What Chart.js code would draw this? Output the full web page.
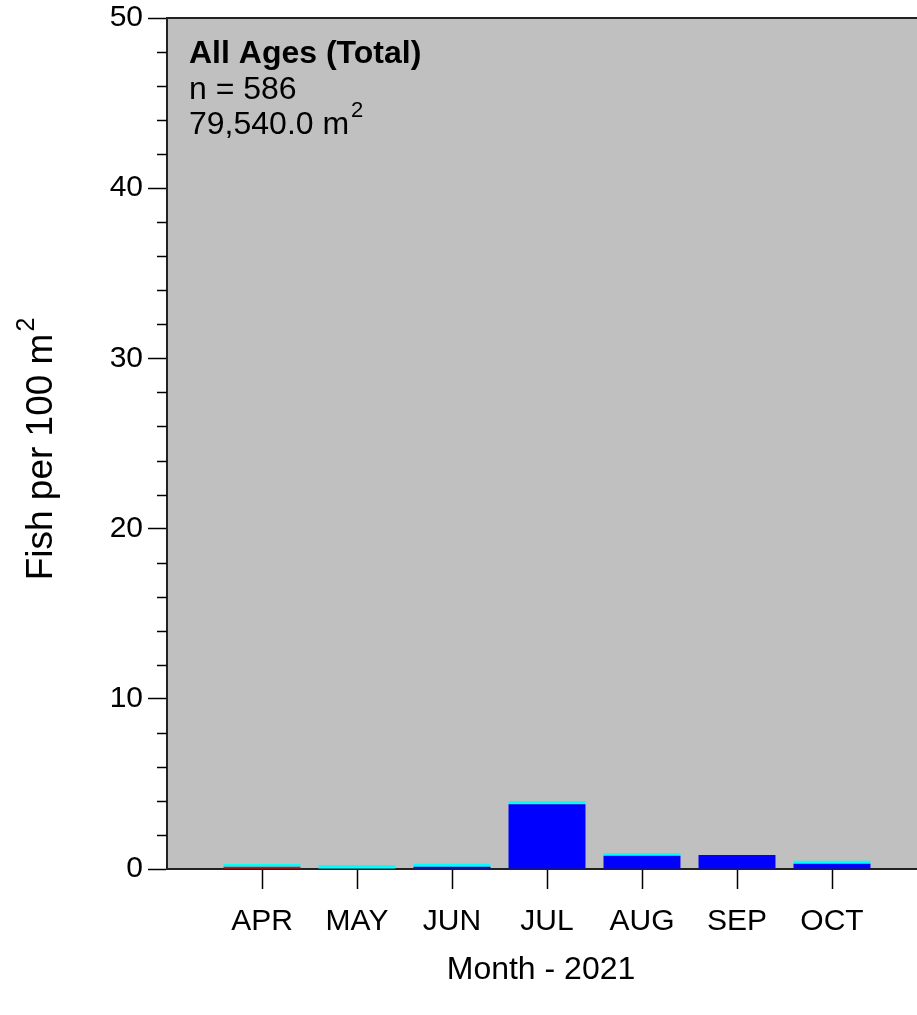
<!DOCTYPE html>
<html>
<head>
<meta charset="utf-8">
<script src="https://cdn.jsdelivr.net/npm/chart.js@4/dist/chart.umd.min.js"></script>
<style>
  html, body { margin: 0; padding: 0; background: #ffffff; overflow: hidden; }
  #wrap { width: 917px; height: 1015px; overflow: hidden; position: relative; }
  canvas { display: block; }
</style>
</head>
<body>
<div id="wrap"><canvas id="c" width="940" height="1015"></canvas></div>
<script>
// Monthly densities (fish per 100 m^2), stacked by age group
const months = ['APR', 'MAY', 'JUN', 'JUL', 'AUG', 'SEP', 'OCT'];
const age0 = [0.13, 0.00, 0.00, 0.00, 0.00, 0.00, 0.00];
const age1 = [0.00, 0.00, 0.13, 3.80, 0.78, 0.82, 0.31];
const age2 = [0.16, 0.23, 0.18, 0.19, 0.16, 0.00, 0.18];
const yTicks = [0, 10, 20, 30, 40, 50];
const yMinorTicks = [2, 4, 6, 8, 12, 14, 16, 18, 22, 24, 26, 28, 32, 34, 36, 38, 42, 44, 46, 48];

const panelTitle = 'All Ages (Total)';
const sampleText = 'n = 586';
const areaText = '79,540.0 m';
const yTitle = 'Fish per 100 m';
const xTitle = 'Month - 2021';

const FONT = '"Liberation Sans", Arial, Helvetica, sans-serif';

const toPoints = arr => arr.map((v, i) => ({ x: i + 1, y: v }));

const framePlugin = {
  id: 'frame',
  beforeDraw(chart) {
    const { ctx, chartArea: a } = chart;
    ctx.save();
    ctx.fillStyle = '#c0c0c0';
    ctx.fillRect(a.left, a.top, a.right - a.left, a.bottom - a.top);
    ctx.restore();
  },
  afterDraw(chart) {
    const { ctx, chartArea: a, scales } = chart;
    const y = scales.y;
    ctx.save();
    // top frame line
    ctx.strokeStyle = '#222';
    ctx.lineWidth = 2;
    ctx.beginPath();
    ctx.moveTo(a.left - 1, a.top);
    ctx.lineTo(a.right, a.top);
    ctx.stroke();
    // minor ticks on the value axis
    ctx.lineWidth = 1.5;
    ctx.strokeStyle = '#000';
    yMinorTicks.forEach(v => {
      const py = Math.round(y.getPixelForValue(v)) + 0.5;
      ctx.beginPath();
      ctx.moveTo(a.left - 10, py);
      ctx.lineTo(a.left, py);
      ctx.stroke();
    });
    // annotation block
    ctx.fillStyle = '#000';
    ctx.textBaseline = 'alphabetic';
    ctx.textAlign = 'left';
    const tx = a.left + 22;
    ctx.font = 'bold 32px ' + FONT;
    ctx.fillText(panelTitle, tx, 63);
    ctx.font = '32px ' + FONT;
    ctx.fillText(sampleText, tx, 99);
    ctx.fillText(areaText, tx, 134);
    const w = ctx.measureText(areaText).width;
    ctx.font = '22px ' + FONT;
    ctx.fillText('2', tx + w + 2, 117);

    // value-axis title with superscript
    ctx.save();
    ctx.translate(52, 449);
    ctx.rotate(-Math.PI / 2);
    ctx.font = '37px ' + FONT;
    const w1 = ctx.measureText(yTitle).width;
    ctx.font = '25px ' + FONT;
    const w2 = ctx.measureText('2').width;
    const start = -(w1 + w2 + 2) / 2;
    ctx.font = '37px ' + FONT;
    ctx.fillText(yTitle, start, 0);
    ctx.font = '25px ' + FONT;
    ctx.fillText('2', start + w1 + 2, -18);
    ctx.restore();

    // category-axis title
    ctx.font = '32px ' + FONT;
    ctx.textAlign = 'center';
    ctx.fillText(xTitle, 541, 979);
    ctx.restore();
  }
};

new Chart(document.getElementById('c'), {
  type: 'bar',
  data: {
    datasets: [
      { label: 'Age 0', data: toPoints(age0), backgroundColor: '#ff0000' },
      { label: 'Age 1', data: toPoints(age1), backgroundColor: '#0000ff' },
      { label: 'Age 2+', data: toPoints(age2), backgroundColor: '#00ffff' }
    ]
  },
  options: {
    responsive: false,
    devicePixelRatio: 1,
    animation: false,
    barPercentage: 0.9,
    categoryPercentage: 0.9,
    layout: { padding: { top: 18, right: 13, left: 0, bottom: 0 } },
    plugins: { legend: { display: false }, tooltip: { enabled: false } },
    scales: {
      x: {
        type: 'linear',
        stacked: true,
        min: 0,
        max: 8,
        offset: false,
        afterBuildTicks: s => { s.ticks = months.map((m, i) => ({ value: i + 1 })); },
        afterFit: s => { s.height = 146; s.paddingLeft = 0; s.paddingRight = 0; },
        ticks: {
          callback: v => months[v - 1] || '',
          color: '#000',
          font: { family: FONT, size: 30 },
          padding: 15,
          maxRotation: 0,
          autoSkip: false
        },
        grid: { display: true, drawOnChartArea: false, offset: false, tickLength: 20, tickWidth: 1.5, tickColor: '#000' },
        border: { display: true, color: '#222', width: 2 }
      },
      y: {
        stacked: true,
        min: 0,
        max: 50,
        afterBuildTicks: s => { s.ticks = yTicks.map(v => ({ value: v })); },
        afterFit: s => { s.width = 167; s.paddingTop = 0; s.paddingBottom = 0; },
        ticks: {
          color: '#000',
          font: { family: FONT, size: 30 },
          padding: 5
        },
        grid: { display: true, drawOnChartArea: false, tickLength: 19, tickWidth: 1.5, tickColor: '#000' },
        border: { display: true, color: '#222', width: 2 }
      }
    }
  },
  plugins: [framePlugin]
});
</script>
</body>
</html>
